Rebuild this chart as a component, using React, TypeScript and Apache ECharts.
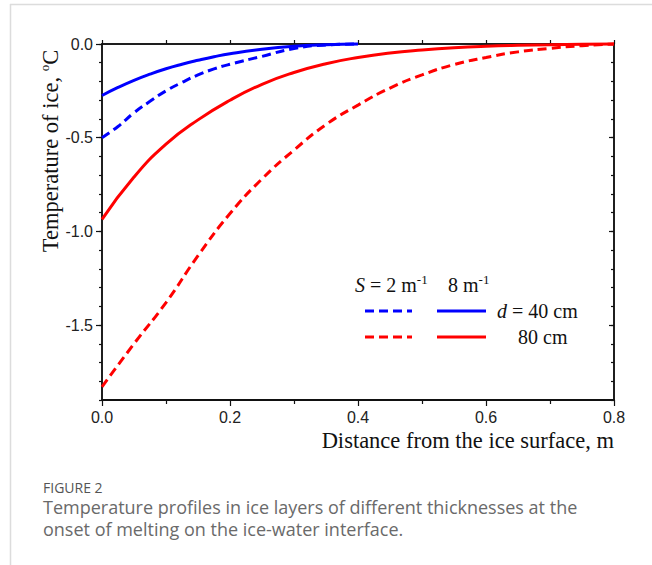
import React, { useEffect, useRef } from "react";
import * as echarts from "echarts";

// Distance from the ice surface, m
const xBlue = [0, 0.025, 0.05, 0.075, 0.1, 0.125, 0.15, 0.175, 0.2, 0.25, 0.3, 0.35, 0.4];
const xRed = [0, 0.05, 0.1, 0.15, 0.2, 0.25, 0.3, 0.35, 0.4, 0.45, 0.5, 0.55, 0.6, 0.65, 0.7, 0.75, 0.8];

// Temperature of ice, °C
const d40S2 = [-0.5, -0.44, -0.367, -0.306, -0.25, -0.205, -0.165, -0.133, -0.108, -0.066, -0.024, -0.005, 0];
const d40S8 = [-0.275, -0.232, -0.194, -0.161, -0.132, -0.108, -0.087, -0.068, -0.052, -0.028, -0.012, -0.004, 0];
const d80S2 = [-1.83, -1.6, -1.38, -1.13, -0.905, -0.72, -0.566, -0.43, -0.326, -0.235, -0.165, -0.11, -0.072, -0.042, -0.023, -0.009, 0];
const d80S8 = [-0.936, -0.71, -0.535, -0.405, -0.3, -0.215, -0.152, -0.105, -0.072, -0.048, -0.032, -0.02, -0.012, -0.007, -0.004, -0.001, 0];

const yMin = -1.9;
const yMajorTicks = [-1.5, -1.0, -0.5, 0];
const xTitle = "Distance from the ice surface, m";
const captionHead = "FIGURE 2";
const captionLines = [
  "Temperature profiles in ice layers of different thicknesses at the",
  "onset of melting on the ice-water interface.",
];

const SERIF = "'Liberation Serif', 'Times New Roman', serif";
const SANS = "'Liberation Sans', Arial, sans-serif";
const BLUE = "#0000ff";
const RED = "#ff0000";

const zip = (xs: number[], ys: number[]) => xs.map((x, i) => [x, ys[i]]);

export default function App() {
  const ref = useRef<HTMLDivElement>(null);
  useEffect(() => {
    if (!ref.current) return;
    const chart = echarts.init(ref.current, null, { renderer: "svg" });
    const mkLine = (w = 1.5) => ({ show: true, onZero: false, lineStyle: { color: "#111", width: w } });
    const noLine = () => ({ show: false, onZero: false });
    const tickStyle = { color: "#111", width: 1.2 };
    const grid = {
      left: 102,
      top: 44,
      width: 512,
      height: 356,
      show: true,
      borderColor: "#111",
      borderWidth: 1.5,
      backgroundColor: "transparent",
    };
    const lineSeries = (name: string, data: number[][], color: string, dashed: boolean, extra: any = {}) => ({
      name,
      type: "line",
      data,
      showSymbol: false,
      smooth: 0.5,
      clip: false,
      lineStyle: { color, width: 3, type: dashed ? [9, 5] : "solid" },
      z: 3,
      ...extra,
    });
    const serifRich = (size: number) => ({
      i: { fontStyle: "italic", fontSize: size, fontFamily: SERIF, fill: "#111" },
      sup: { fontSize: 13, fontFamily: SERIF, fill: "#111", verticalAlign: "top", lineHeight: 24 },
    });
    chart.setOption({
      animation: false,
      grid,
      xAxis: [
        {
          type: "value",
          position: "bottom",
          min: 0,
          max: 0.8,
          interval: 0.2,
          axisLine: mkLine(1.8),
          splitLine: { show: false },
          axisTick: { show: true, inside: false, length: 6, lineStyle: tickStyle },
          minorTick: { show: true, splitNumber: 2, length: 4, lineStyle: tickStyle },
          axisLabel: {
            margin: 9,
            fontFamily: SANS,
            fontSize: 16,
            color: "#222",
            formatter: (v: number) => v.toFixed(1),
          },
        },
        {
          type: "value",
          position: "top",
          min: 0,
          max: 0.8,
          interval: 0.1,
          axisLine: mkLine(),
          splitLine: { show: false },
          axisTick: { show: true, inside: false, length: 4, lineStyle: tickStyle },
          axisLabel: { show: false },
        },
      ],
      yAxis: [
        {
          type: "value",
          position: "left",
          min: yMin,
          max: 0,
          interval: 0.1,
          axisLine: mkLine(),
          splitLine: { show: false },
          axisTick: { show: true, inside: false, length: 3, lineStyle: tickStyle },
          axisLabel: {
            customValues: yMajorTicks,
            margin: 9,
            fontFamily: SANS,
            fontSize: 16,
            color: "#222",
            formatter: (v: number) => v.toFixed(1),
          },
        },
        {
          type: "value",
          position: "left",
          min: yMin,
          max: 0,
          axisLine: noLine(),
          splitLine: { show: false },
          axisTick: { show: true, inside: false, length: 6, customValues: yMajorTicks, lineStyle: tickStyle },
          axisLabel: { show: false },
        },
        {
          type: "value",
          position: "right",
          min: yMin,
          max: 0,
          interval: 0.1,
          axisLine: mkLine(),
          splitLine: { show: false },
          axisTick: { show: true, inside: true, length: 3, lineStyle: tickStyle },
          axisLabel: { show: false },
        },
        {
          type: "value",
          position: "right",
          min: yMin,
          max: 0,
          axisLine: noLine(),
          splitLine: { show: false },
          axisTick: { show: true, inside: true, length: 5, customValues: yMajorTicks, lineStyle: tickStyle },
          axisLabel: { show: false },
        },
      ],
      series: [
        lineSeries("S = 2, d = 40", zip(xBlue, d40S2), BLUE, true),
        lineSeries("S = 8, d = 40", zip(xBlue, d40S8), BLUE, false),
        lineSeries("S = 2, d = 80", zip(xRed, d80S2), RED, true),
        lineSeries("S = 8, d = 80", zip(xRed, d80S8), RED, false, {
          markLine: {
            silent: true,
            symbol: "none",
            label: { show: false },
            lineStyle: { color: "#111", width: 1.8, type: "solid" },
            data: [{ yAxis: yMin }],
          },
        }),
      ],
      graphic: [
        // frame
        { type: "line", shape: { x1: 10, y1: 4.5, x2: 652, y2: 4.5 }, style: { stroke: "#dcdcdc", lineWidth: 1.5 } },
        { type: "line", shape: { x1: 10.5, y1: 4, x2: 10.5, y2: 565 }, style: { stroke: "#dcdcdc", lineWidth: 1.5 } },
        // axis titles
        {
          type: "text",
          x: 614,
          y: 440,
          style: { text: xTitle, font: `22.5px ${SERIF}`, fill: "#111", align: "right", verticalAlign: "middle" },
        },
        {
          type: "text",
          x: 50,
          y: 151,
          rotation: Math.PI / 2,
          style: {
            text: "Temperature of ice, {sup|o}C",
            font: `22.5px ${SERIF}`,
            fill: "#111",
            align: "center",
            verticalAlign: "middle",
            rich: serifRich(22.5),
          },
        },
        // legend
        {
          type: "text",
          x: 355,
          y: 285,
          style: {
            text: "{i|S} = 2 m{sup|-1}",
            font: `20px ${SERIF}`,
            fill: "#111",
            verticalAlign: "middle",
            rich: serifRich(20),
          },
        },
        {
          type: "text",
          x: 448,
          y: 285,
          style: {
            text: "8 m{sup|-1}",
            font: `20px ${SERIF}`,
            fill: "#111",
            verticalAlign: "middle",
            rich: serifRich(20),
          },
        },
        { type: "line", shape: { x1: 365, y1: 311, x2: 412, y2: 311 }, style: { stroke: BLUE, lineWidth: 3, lineDash: [9, 5] } },
        { type: "line", shape: { x1: 437, y1: 311, x2: 486, y2: 311 }, style: { stroke: BLUE, lineWidth: 3 } },
        { type: "line", shape: { x1: 365, y1: 337, x2: 412, y2: 337 }, style: { stroke: RED, lineWidth: 3, lineDash: [9, 5] } },
        { type: "line", shape: { x1: 437, y1: 337, x2: 486, y2: 337 }, style: { stroke: RED, lineWidth: 3 } },
        {
          type: "text",
          x: 497,
          y: 311,
          style: {
            text: "{i|d} = 40 cm",
            font: `20px ${SERIF}`,
            fill: "#111",
            verticalAlign: "middle",
            rich: serifRich(20),
          },
        },
        {
          type: "text",
          x: 518,
          y: 337,
          style: { text: "80 cm", font: `20px ${SERIF}`, fill: "#111", verticalAlign: "middle" },
        },
        // caption
        {
          type: "text",
          x: 43,
          y: 487,
          style: {
            text: captionHead,
            font: `14px 'Open Sans', sans-serif`,
            fill: "#555",
            verticalAlign: "middle",
            lineHeight: 14,
          },
        },
        {
          type: "text",
          x: 43,
          y: 507,
          style: {
            text: captionLines[0],
            font: `18px 'Open Sans', sans-serif`,
            fill: "#6a6a6a",
            verticalAlign: "middle",
            lineHeight: 18,
          },
        },
        {
          type: "text",
          x: 43,
          y: 529,
          style: {
            text: captionLines[1],
            font: `18px 'Open Sans', sans-serif`,
            fill: "#6a6a6a",
            verticalAlign: "middle",
            lineHeight: 18,
          },
        },
      ],
    });
    return () => chart.dispose();
  }, []);
  return (
    <div style={{ position: "fixed", left: 0, top: 0, width: 652, height: 565, background: "#fff" }}>
      <div ref={ref} style={{ width: 652, height: 565 }} />
    </div>
  );
}
